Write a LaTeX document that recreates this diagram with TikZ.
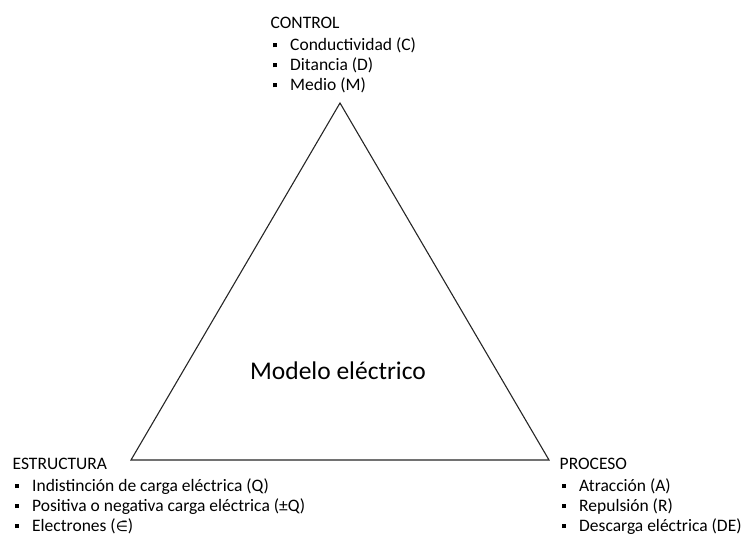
\documentclass[tikz,border=0pt]{standalone}
\usepackage{fontspec}
\setmainfont{Carlito}
\newfontfamily\symfont{DejaVu Sans}
\newcommand{\itm}[1]{\makebox[19.5pt][l]{\hspace{2pt}\rule[3pt]{4.5pt}{4.5pt}}#1}
\begin{document}
\begin{tikzpicture}[x=1pt, y=-1pt, every node/.style={inner sep=0pt, outer sep=0pt}]
\useasboundingbox (0,0) rectangle (742,537);
\tikzset{every node/.style={inner sep=0pt}}
\tikzset{lbl/.style={anchor=base west, font=\fontsize{17.5}{20}\selectfont}}
\coordinate (C) at (340,103);
\coordinate (E) at (131,460);
\coordinate (P) at (549,460);

\node[font=\fontsize{25.5}{28}\selectfont] (M) at (338,371) {Modelo eléctrico};

\node[lbl] (lC) at (270.5,28.5) {\begin{tabular}[t]{@{}l@{}}CONTROL\\[2pt]
  \itm{Conductividad (C)}\\ \itm{Ditancia (D)}\\ \itm{Medio (M)}\end{tabular}};
\node[lbl] (lE) at (12.5,469) {\begin{tabular}[t]{@{}l@{}}ESTRUCTURA\\[2pt]
  \itm{Indistinción de carga eléctrica (Q)}\\ \itm{Positiva o negativa carga eléctrica (±Q)}\\ \itm{Electrones ({\symfont\fontsize{14}{16}\selectfont ∈̄})}\end{tabular}};
\node[lbl] (lP) at (559.5,469) {\begin{tabular}[t]{@{}l@{}}PROCESO\\[2pt]
  \itm{Atracción (A)}\\ \itm{Repulsión (R)}\\ \itm{Descarga eléctrica (DE)}\end{tabular}};

\tikzset{mystyle/.style={line width=1.1pt, draw=black!85, line join=miter}}
\draw[mystyle] (C) -- (P) -- (E) -- cycle;

\end{tikzpicture}
\end{document}
